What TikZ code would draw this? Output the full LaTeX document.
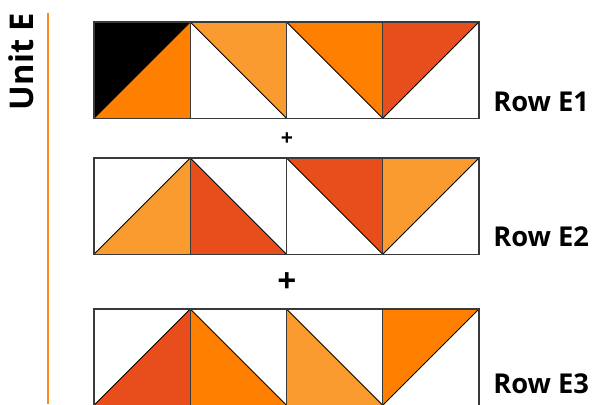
\documentclass[tikz,border=0pt]{standalone}
\usepackage{fontspec}
\setmainfont{Open Sans}
\definecolor{qblack}{HTML}{000000}
\definecolor{qorange}{HTML}{FF8000}
\definecolor{qlight}{HTML}{FA9B2F}
\definecolor{qred}{HTML}{E84E1B}
\definecolor{qedge}{HTML}{3A3A3A}
\definecolor{qline}{HTML}{FF8A1C}
\tikzset{
  sqedge/.style={draw=qedge, line width=1.1pt},
  diag/.style={draw=black, line width=0.7pt},
  rowlabel/.style={anchor=base west, inner sep=0pt, font=\fontsize{20.5}{20.5}\selectfont\bfseries},
  plusmark/.style={inner sep=0pt, font=\bfseries},
}
\begin{document}
\begin{tikzpicture}[x=0.75pt,y=-0.75pt]
\useasboundingbox (0,0) rectangle (598,404);
\clip (0,0) rectangle (598,404);
\def\s{96.25}
% ---------- Row E1 (top 22) ----------
\begin{scope}[shift={(94,22)}]
 \fill[qblack] (0,0) -- (\s,0) -- (0,\s) -- cycle;
 \fill[qorange] (\s,0) -- (\s,\s) -- (0,\s) -- cycle;
 \draw[diag] (0,\s) -- (\s,0);
 \fill[qlight] (\s,0) -- (2*\s,0) -- (2*\s,\s) -- cycle;
 \draw[diag] (\s,0) -- (2*\s,\s);
 \fill[qorange] (2*\s,0) -- (3*\s,0) -- (3*\s,\s) -- cycle;
 \draw[diag] (2*\s,0) -- (3*\s,\s);
 \fill[qred] (3*\s,0) -- (4*\s,0) -- (3*\s,\s) -- cycle;
 \draw[diag] (3*\s,\s) -- (4*\s,0);
 \foreach \i in {0,1,2,3} \draw[sqedge] (\i*\s,0) rectangle ++(\s,\s);
\end{scope}
% ---------- Row E2 (top 158) ----------
\begin{scope}[shift={(94,158)}]
 \fill[qlight] (\s,0) -- (\s,\s) -- (0,\s) -- cycle;
 \draw[diag] (0,\s) -- (\s,0);
 \fill[qred] (\s,0) -- (2*\s,\s) -- (\s,\s) -- cycle;
 \draw[diag] (\s,0) -- (2*\s,\s);
 \fill[qred] (2*\s,0) -- (3*\s,0) -- (3*\s,\s) -- cycle;
 \draw[diag] (2*\s,0) -- (3*\s,\s);
 \fill[qlight] (3*\s,0) -- (4*\s,0) -- (3*\s,\s) -- cycle;
 \draw[diag] (3*\s,\s) -- (4*\s,0);
 \foreach \i in {0,1,2,3} \draw[sqedge] (\i*\s,0) rectangle ++(\s,\s);
\end{scope}
% ---------- Row E3 (top 309) ----------
\begin{scope}[shift={(94,309)}]
 \fill[qred] (\s,0) -- (\s,\s) -- (0,\s) -- cycle;
 \draw[diag] (0,\s) -- (\s,0);
 \fill[qorange] (\s,0) -- (2*\s,\s) -- (\s,\s) -- cycle;
 \draw[diag] (\s,0) -- (2*\s,\s);
 \fill[qlight] (2*\s,0) -- (3*\s,\s) -- (2*\s,\s) -- cycle;
 \draw[diag] (2*\s,0) -- (3*\s,\s);
 \fill[qorange] (3*\s,0) -- (4*\s,0) -- (3*\s,\s) -- cycle;
 \draw[diag] (3*\s,\s) -- (4*\s,0);
 \foreach \i in {0,1,2,3} \draw[sqedge] (\i*\s,0) rectangle ++(\s,\s);
\end{scope}
% ---------- labels ----------
\node[rowlabel] (e1) at (493,111) {Row E1};
\node[rowlabel] (e2) at (493,246) {Row E2};
\node[rowlabel] (e3) at (493,393) {Row E3};
\node[plusmark, font=\fontsize{16}{16}\selectfont\bfseries] (p1) at (287,139) {+};
\node[plusmark, font=\fontsize{25}{25}\selectfont\bfseries] (p2) at (287,283) {+};
\node[rotate=90, inner sep=0pt, font=\fontsize{24.5}{24.5}\selectfont\bfseries] (unit) at (21,61.5) {Unit E};
\coordinate (lt) at (48,13);
\coordinate (lb) at (48,404);
\draw[qline, line width=1.6pt] (lt) -- (lb);
\end{tikzpicture}
\end{document}
